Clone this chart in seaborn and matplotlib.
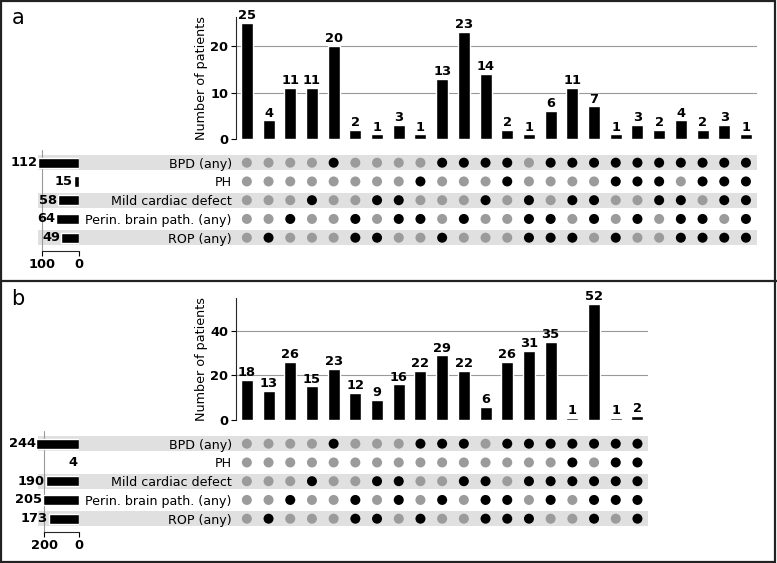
import matplotlib
matplotlib.use("Agg")
import numpy as np
import pandas as pd
import matplotlib.pyplot as plt
import seaborn as sns
from matplotlib.patches import Rectangle
from matplotlib.lines import Line2D
from matplotlib.transforms import blended_transform_factory

# categories (matrix rows, top to bottom)
rows = ["BPD (any)", "PH", "Mild cardiac defect", "Perin. brain path. (any)", "ROP (any)"]

# panel a
a_counts = [25, 4, 11, 11, 20, 2, 1, 3, 1, 13, 23, 14, 2, 1, 6, 11, 7, 1, 3, 2, 4, 2, 3, 1]
a_bpd     = "000010000111101111111111"
a_ph      = "000000001000100001110111"
a_cardiac = "000100110001010110011011"
a_brain   = "001001011010011010101101"
a_rop     = "010001100100011101001111"
a_totals = [112, 15, 58, 64, 49]

# panel b
b_counts = [18, 13, 26, 15, 23, 12, 9, 16, 22, 29, 22, 6, 26, 31, 35, 1, 52, 1, 2]
b_bpd     = "0000100011101111111"
b_ph      = "0000000000000001011"
b_cardiac = "0001001100110111111"
b_brain   = "0010010101011010111"
b_rop     = "0100011010011100101"
b_totals = [244, 4, 190, 205, 173]

W, H = 777, 563
STEP = 21.7        # px per intersection column
ROW = 18.75        # px per matrix row
DOT_OFF = "#9b9b9b"
STRIPE = "#e0e0e0"
GRID = "#999999"

sns.set_style("white")
plt.rcParams["font.family"] = ["DejaVu Sans"]
plt.rcParams["font.size"] = 9.4
for key in ["text.color", "axes.labelcolor", "xtick.color", "ytick.color"]:
    plt.rcParams[key] = "black"

fig = plt.figure(figsize=(W / 100, H / 100), dpi=100)


def box(l, t, r, b):
    return [l / W, 1 - b / H, (r - l) / W, (b - t) / H]


def panel(dy, letter, counts, members, totals, tot_tick, tot_scale, ystep):
    n = len(counts)
    right = 236 + STEP * n
    mtop = 162.7 - 0.7 * ROW + dy
    mbot = 162.7 + 4.7 * ROW + dy

    # matrix of dots
    axm = fig.add_axes(box(236, mtop, right, mbot))
    axm.set_facecolor("none")
    df = pd.DataFrame([(c, r, "on" if members[r][c] == "1" else "off")
                       for r in range(len(rows)) for c in range(n)],
                      columns=["col", "row", "state"])
    sns.scatterplot(data=df, x="col", y="row", hue="state",
                    palette={"on": "black", "off": DOT_OFF},
                    s=52, linewidth=0, legend=False, ax=axm)
    axm.set_xlim(-0.5, n - 0.5)
    axm.set_ylim(4.7, -0.7)
    trans = blended_transform_factory(axm.transAxes, axm.transData)
    x0 = (38 - 236) / (right - 236)
    for r in range(0, len(rows), 2):
        axm.add_patch(Rectangle((x0, r - 0.4), 1 - x0, 0.8, transform=trans,
                                color=STRIPE, lw=0, zorder=0, clip_on=False))
    axm.set_xticks([])
    axm.set_yticks(range(len(rows)))
    axm.set_yticklabels(rows, fontsize=9.1)
    axm.tick_params(axis="y", length=0, pad=3)
    axm.set_xlabel("")
    axm.set_ylabel("")
    for s in axm.spines.values():
        s.set_visible(False)

    # set totals
    axt = fig.add_axes(box(30, mtop, 79, mbot))
    axt.set_facecolor("none")
    sns.barplot(x=totals, y=rows, orient="h", color="black", width=0.55,
                saturation=1, ax=axt)
    axt.set_xlim(49 / tot_scale, 0)
    axt.set_ylim(4.7, -0.7)
    axt.bar_label(axt.containers[0], fmt="%d", padding=0.5, fontweight="bold")
    axt.axvline(tot_tick, color=GRID, lw=0.8, zorder=0)
    axt.set_xticks([tot_tick, 0])
    axt.set_yticks([])
    axt.set_ylabel("")
    for side in ["top", "left", "right"]:
        axt.spines[side].set_visible(False)
    axt.spines["bottom"].set_bounds(0, tot_tick)
    axt.spines["bottom"].set_linewidth(0.8)
    axt.tick_params(axis="x", bottom=True, length=3.5, width=0.8, pad=1.5)
    for t in axt.get_xticklabels():
        t.set_fontweight("bold")

    # intersection sizes
    axb = fig.add_axes(box(236, 17 + dy, right, 139 + dy))
    sns.barplot(x=list(range(n)), y=counts, color="black", width=0.55,
                saturation=1, ax=axb)
    axb.set_xlim(-0.5, n - 0.5)
    axb.set_ylim(0, max(counts) * 1.05)
    axb.set_yticks(np.arange(0, max(counts) * 1.05, ystep))
    axb.bar_label(axb.containers[0], fmt="%d", padding=0.5, fontweight="bold")
    axb.set_axisbelow(True)
    axb.yaxis.grid(True, color=GRID, lw=0.8)
    axb.get_ygridlines()[0].set_visible(False)
    axb.set_xticks([])
    for side in ["top", "bottom", "right"]:
        axb.spines[side].set_visible(False)
    axb.spines["left"].set_linewidth(0.8)
    axb.tick_params(axis="y", left=True, length=3.5, width=0.8, pad=2)
    for t in axb.get_yticklabels():
        t.set_fontweight("bold")
    axb.set_ylabel("Number of patients", fontsize=9.2, labelpad=2)

    fig.text(18 / W, 1 - (18 + dy) / H, letter, fontsize=15,
             ha="center", va="center")


panel(0, "a", a_counts, [a_bpd, a_ph, a_cardiac, a_brain, a_rop],
      a_totals, 100, 0.366, 10)
panel(281, "b", b_counts, [b_bpd, b_ph, b_cardiac, b_brain, b_rop],
      b_totals, 200, 0.175, 20)

# frame around the two panels
fig.add_artist(Rectangle((0.001, 0.0015), 0.997, 0.996, transform=fig.transFigure,
                         fill=False, ec="#222222", lw=1.6))
fig.add_artist(Line2D([0, 1], [1 - 281 / H] * 2, transform=fig.transFigure,
                      color="#222222", lw=1.6))

fig.savefig("out.png", dpi=100)
